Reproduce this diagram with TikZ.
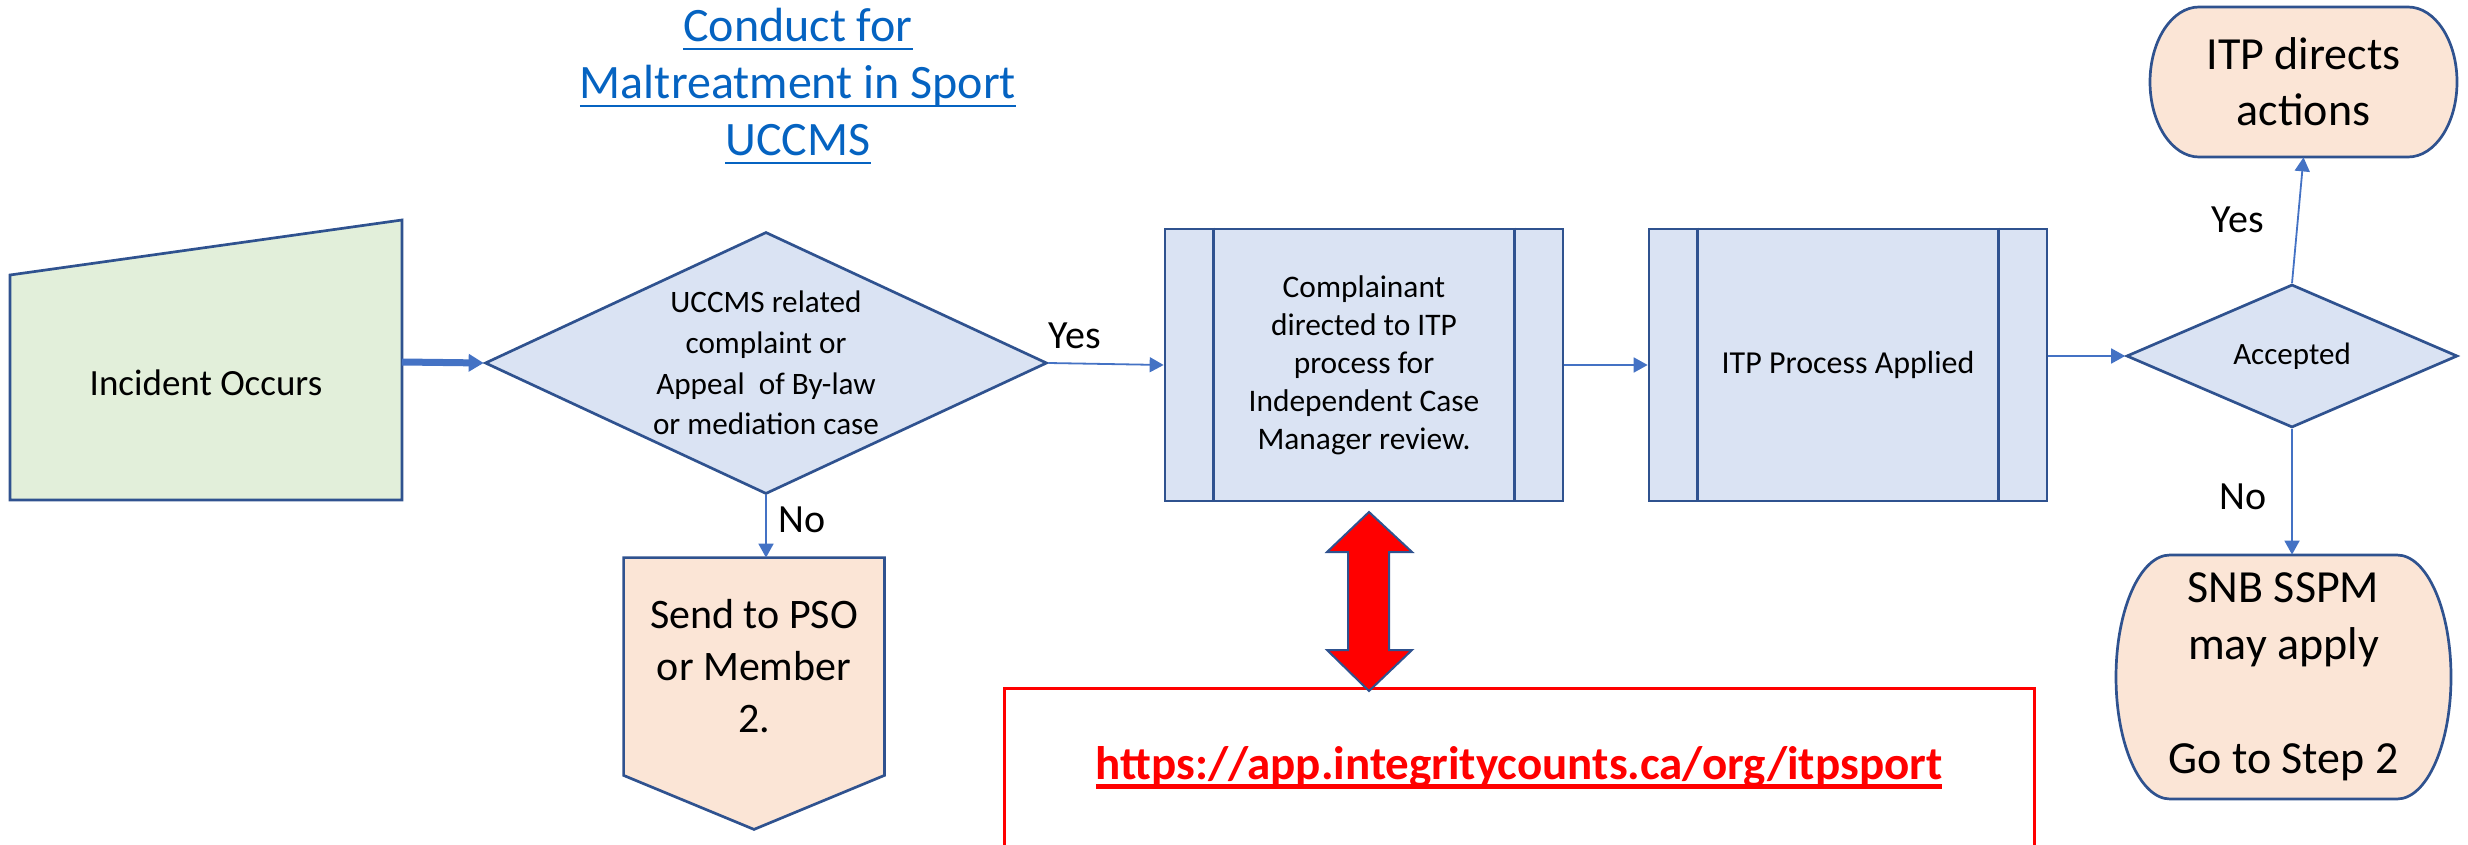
\documentclass[tikz,border=0pt]{standalone}
\usepackage{fontspec}
\setmainfont{Carlito}
\usetikzlibrary{shapes.geometric,arrows.meta,calc,backgrounds}

\definecolor{shapeborder}{HTML}{2F528F}
\definecolor{conn}{HTML}{4472C4}
\definecolor{fillgreen}{HTML}{E2EFDA}
\definecolor{fillblue}{HTML}{DAE3F3}
\definecolor{fillpeach}{HTML}{FBE5D6}
\definecolor{linkblue}{HTML}{0563C1}

\newsavebox\myulbox
% #1 depth of rule bottom below baseline, #2 thickness, #3 text
\newcommand{\myul}[3]{\sbox\myulbox{#3}\leavevmode\rlap{\rule[-#1]{\wd\myulbox}{#2}}\usebox\myulbox}

\tikzset{
  shapeline/.style={draw=shapeborder, line width=1.35pt},
  decision/.style={diamond, shapeline, fill=fillblue, inner sep=0pt, align=center},
  procbox/.style={rectangle, shapeline, fill=fillblue, align=center,
                  minimum width=199pt, minimum height=136pt, inner sep=0pt},
  connector/.style={draw=conn, line width=0.9pt, -{Triangle[length=7pt,width=7.5pt]}},
  thickconn/.style={draw=conn, line width=3.5pt, -{Triangle[length=7.5pt,width=8.5pt]}},
  flowlabel/.style={font=\fontsize{20}{24}\selectfont, inner sep=0pt},
  plain/.style={inner sep=0pt, align=center},
  peachshape/.style={shapeline, fill=fillpeach},
}

\begin{document}
\begin{tikzpicture}[x=0.5pt,y=-0.5pt]
\useasboundingbox (0,0) rectangle (2468,845);
\clip (0,0) rectangle (2468,845);

% title
\node[plain, text=linkblue, font=\fontsize{24}{28.5}\selectfont] (title) at (798,86)
  {\myul{4.6pt}{1.35pt}{Conduct for}\\\myul{4.6pt}{1.35pt}{Maltreatment in Sport}\\\myul{4.6pt}{1.35pt}{UCCMS}};

% incident (manual input)
\node[plain, font=\fontsize{18.5}{22}\selectfont] (inc) at (206,383) {Incident Occurs};
\coordinate (incR) at (402,362);

% decision 1
\node[decision, aspect=2.14, minimum width=281pt, minimum height=131pt,
      font=\fontsize{15.6}{20.3}\selectfont] (d1) at (766,363)
  {UCCMS related\\complaint or\\Appeal~ of By-law\\or mediation case};

% send to PSO (off-page connector)
\node[plain, minimum width=130pt, minimum height=108.5pt,
      font=\fontsize{21}{26}\selectfont] (pso) at (754,666.5)
  {Send to PSO\\or Member\\2.};

% process boxes
\node[procbox, font=\fontsize{15.7}{19}\selectfont] (b1) at (1364,365)
  {Complainant\\directed to ITP\\process for\\Independent Case\\Manager review.};
\draw[shapeline] ($(b1.north west)+(50,0)$) -- ($(b1.south west)+(50,0)$);
\draw[shapeline] ($(b1.north east)+(-50,0)$) -- ($(b1.south east)+(-50,0)$);

\node[procbox, font=\fontsize{16}{19}\selectfont] (b2) at (1848,365) {ITP Process Applied};
\draw[shapeline] ($(b2.north west)+(50,0)$) -- ($(b2.south west)+(50,0)$);
\draw[shapeline] ($(b2.north east)+(-50,0)$) -- ($(b2.south east)+(-50,0)$);

% accepted decision
\node[decision, aspect=2.3, minimum width=165.5pt, minimum height=71.5pt,
      font=\fontsize{15.5}{18}\selectfont] (acc) at (2292,356) {Accepted};

% terminators
\node[plain, minimum width=153.5pt, minimum height=75pt,
      font=\fontsize{23}{28}\selectfont] (itp) at (2303.5,82) {ITP directs\\actions};
\node[plain, minimum width=167.5pt, minimum height=122pt,
      font=\fontsize{23}{28.5}\selectfont] (snb) at (2283.5,677)
  {SNB SSPM\\may apply\\\mbox{}\\Go to Step 2};

% URL box
\node[draw=red, line width=1.5pt, minimum width=515pt, minimum height=80pt, inner sep=0pt,
      text=red, font=\bfseries\fontsize{23.5}{28}\selectfont] (url) at (1519,768)
  {\myul{4.8pt}{2.4pt}{https://app.integritycounts.ca/org/itpsport}};

% red double arrow
\draw[draw=shapeborder, line width=1pt, fill=red, line join=miter]
  (1369,512) -- (1412,552) -- (1389,552) -- (1389,650) -- (1412,650) -- (1369,691)
  -- (1327,650) -- (1348,650) -- (1348,552) -- (1327,552) -- cycle;

% background shapes
\begin{scope}[on background layer]
  \draw[shapeline, fill=fillgreen] (10,500) -- (10,275) -- (402,220) -- (402,500) -- cycle;
  \draw[shapeline, fill=fillpeach] (pso.north west) -- (pso.north east) -- (pso.south east)
     -- ($(pso.south)+(0,54)$) -- (pso.south west) -- cycle;
  \draw[peachshape] (2199,7) -- (2408,7)
     arc[start angle=90, end angle=-90, x radius=24.5pt, y radius=37.5pt]
     -- (2199,157)
     arc[start angle=270, end angle=90, x radius=24.5pt, y radius=37.5pt] -- cycle;
  \draw[peachshape] (2170,555) -- (2397,555)
     arc[start angle=90, end angle=-90, x radius=27pt, y radius=61pt]
     -- (2170,799)
     arc[start angle=270, end angle=90, x radius=27pt, y radius=61pt] -- cycle;
\end{scope}

% connectors
\draw[thickconn] (incR) -- (d1.west);
\draw[connector] (d1.east) -- (b1.west);
\draw[connector] (b1.east) -- (b2.west);
\draw[connector] (b2.east |- acc.west) -- (acc.west);
\draw[connector] (acc.north) -- (itp.south);
\draw[connector] (acc.south) -- (acc.south |- snb.north);
\draw[connector] (d1.south) -- (d1.south |- pso.north);

% labels
\node[flowlabel] (yes1) at (1075,336) {Yes};
\node[flowlabel] (no1) at (802,520) {No};
\node[flowlabel] (yes2) at (2238,220) {Yes};
\node[flowlabel] (no2) at (2243,497) {No};
\end{tikzpicture}
\end{document}
